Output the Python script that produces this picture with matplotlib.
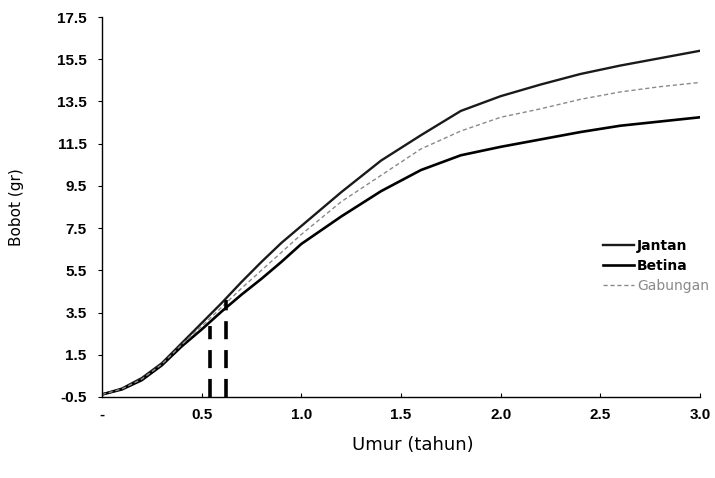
import matplotlib.pyplot as plt

plt.rcParams['font.family'] = ['Liberation Sans', 'DejaVu Sans']

# umur (tahun)
umur = [0.0, 0.1, 0.2, 0.3, 0.4, 0.5, 0.6, 0.7, 0.8, 0.9, 1.0,
        1.2, 1.4, 1.6, 1.8, 2.0, 2.2, 2.4, 2.6, 2.8, 3.0]

# bobot (gr)
jantan = [-0.38, -0.1, 0.4, 1.1, 2.05, 3.0, 3.95, 4.95, 5.9, 6.8, 7.6,
          9.2, 10.7, 11.9, 13.05, 13.75, 14.3, 14.8, 15.2, 15.55, 15.9]
betina = [-0.38, -0.14, 0.3, 1.0, 1.9, 2.7, 3.55, 4.35, 5.1, 5.9, 6.75,
          8.05, 9.25, 10.25, 10.95, 11.35, 11.7, 12.05, 12.35, 12.55, 12.75]
gabungan = [-0.38, -0.12, 0.35, 1.05, 1.98, 2.85, 3.75, 4.65, 5.5, 6.35, 7.2,
            8.75, 10.0, 11.25, 12.1, 12.75, 13.15, 13.6, 13.95, 14.2, 14.4]

# garis putus vertikal
garis_x = [0.54, 0.62]
garis_atas = [2.85, 4.1]

yticks = [-0.5, 1.5, 3.5, 5.5, 7.5, 9.5, 11.5, 13.5, 15.5, 17.5]
xticks = [0, 0.5, 1.0, 1.5, 2.0, 2.5, 3.0]
xlabels = ['-', '0.5', '1.0', '1.5', '2.0', '2.5', '3.0']

fig = plt.figure(figsize=(7.15, 4.78), dpi=100)
ax = fig.add_axes([102 / 715, 81 / 478, 598 / 715, 380 / 478])

ax.plot(umur, jantan, color='#1a1a1a', lw=1.7, label='Jantan')
ax.plot(umur, betina, color='black', lw=1.9, label='Betina')
ax.plot(umur, gabungan, color='#8a8a8a', lw=1.0, dashes=(3, 2), label='Gabungan')

ax.vlines(garis_x, -0.5, garis_atas, colors='black', lw=2.6,
          linestyles=(0, (5, 3)))

ax.set_xlim(0, 3.0)
ax.set_ylim(-0.5, 17.5)
ax.set_yticks(yticks)
ax.set_yticklabels([f'{v:.1f}' for v in yticks])
ax.set_xticks(xticks)
ax.set_xticklabels(xlabels)

for s in ['top', 'right']:
    ax.spines[s].set_visible(False)
for s in ['left', 'bottom']:
    ax.spines[s].set_linewidth(1.0)

ax.tick_params(axis='y', direction='out', length=3, pad=8, labelsize=11)
ax.tick_params(axis='x', direction='in', length=3, pad=8, labelsize=11)
for lbl in ax.get_xticklabels() + ax.get_yticklabels():
    lbl.set_fontweight('bold')

ax.set_ylabel('Bobot (gr)', fontsize=11, family='DejaVu Sans', labelpad=24)
ax.set_xlabel('Umur (tahun)', fontsize=13, family='DejaVu Sans', labelpad=10)
ax.xaxis.label.set_x(0.52)

leg = ax.legend(loc='center left', bbox_to_anchor=(596 / 715, 1 - 266 / 478),
                bbox_transform=fig.transFigure, frameon=False,
                prop={'family': 'DejaVu Sans', 'size': 10},
                handlelength=2.2, handletextpad=0.25, labelspacing=0.45,
                borderpad=0)
for t in leg.get_texts()[:2]:
    t.set_fontweight('bold')
leg.get_texts()[2].set_color('#8a8a8a')

fig.savefig('out.png', dpi=100)
